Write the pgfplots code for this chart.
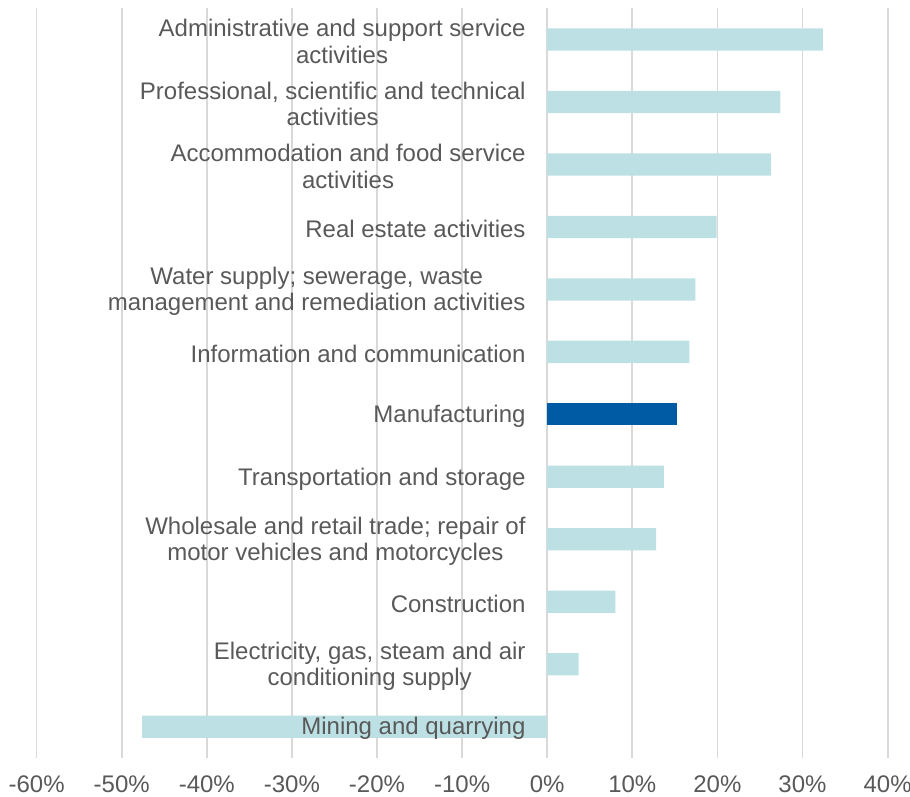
\documentclass[border=0pt]{standalone}
\usepackage{pgfplots}
\pgfplotsset{compat=1.18}
\usepackage{fontspec}
\setmainfont{Liberation Sans}
\definecolor{txt}{HTML}{595959}
\definecolor{lightbar}{HTML}{BCE0E3}
\definecolor{darkbar}{HTML}{005BA5}
\definecolor{gridc}{HTML}{D9D9D9}
\begin{document}
\begin{tikzpicture}
\useasboundingbox (-36.6bp,-39.1bp) rectangle (873.4bp,757.9bp);
\begin{axis}[
  at={(0,0)}, anchor=south west,
  scale only axis, width=851bp, height=749.6bp,
  xmin=-60, xmax=40, ymin=-0.5, ymax=11.5, y dir=reverse,
  xtick={-60,-50,...,40},
  xticklabels={-60\%,-50\%,-40\%,-30\%,-20\%,-10\%,0\%,10\%,20\%,30\%,40\%},
  ytick=\empty,
  xmajorgrids, major grid style={gridc, line width=1.8bp},
  axis line style={draw=none},
  major tick length=0pt,
  xticklabel style={font=\fontsize{24bp}{26.5bp}\selectfont, text=txt, anchor=center, yshift=-26.5bp},
  xbar, bar width=22.3bp, bar shift=0pt,
  clip=false,
  every node/.append style={font=\fontsize{24bp}{26.5bp}\selectfont, text=txt},
]
\addplot[fill=lightbar, draw=none] coordinates {
  (32.4,0) (27.4,1) (26.3,2) (19.9,3) (17.4,4) (16.7,5)
  (13.7,7) (12.8,8) (8.0,9) (3.7,10) (-47.6,11)};
\addplot[fill=darkbar, draw=none] coordinates {(15.3,6)};
\begin{scope}[every node/.style={anchor=east, align=center, inner sep=0pt, xshift=-21.5bp, yshift=-2bp, font=\fontsize{24bp}{26.5bp}\selectfont, text=txt}]
\node at (axis cs:0,0) {Administrative and support service\\activities};
\node at (axis cs:0,1) {Professional, scientific and technical\\activities};
\node at (axis cs:0,2) {Accommodation and food service\\activities};
\node at (axis cs:0,3) {Real estate activities};
\node at (axis cs:0,4) {Water supply; sewerage, waste\\management and remediation activities};
\node at (axis cs:0,5) {Information and communication};
\node at (axis cs:0,6) {Manufacturing};
\node at (axis cs:0,7) {Transportation and storage};
\node at (axis cs:0,8) {Wholesale and retail trade; repair of\\motor vehicles and motorcycles};
\node at (axis cs:0,9) {Construction};
\node at (axis cs:0,10) {Electricity, gas, steam and air\\conditioning supply};
\node at (axis cs:0,11) {Mining and quarrying};
\end{scope}
\end{axis}
\end{tikzpicture}
\end{document}
